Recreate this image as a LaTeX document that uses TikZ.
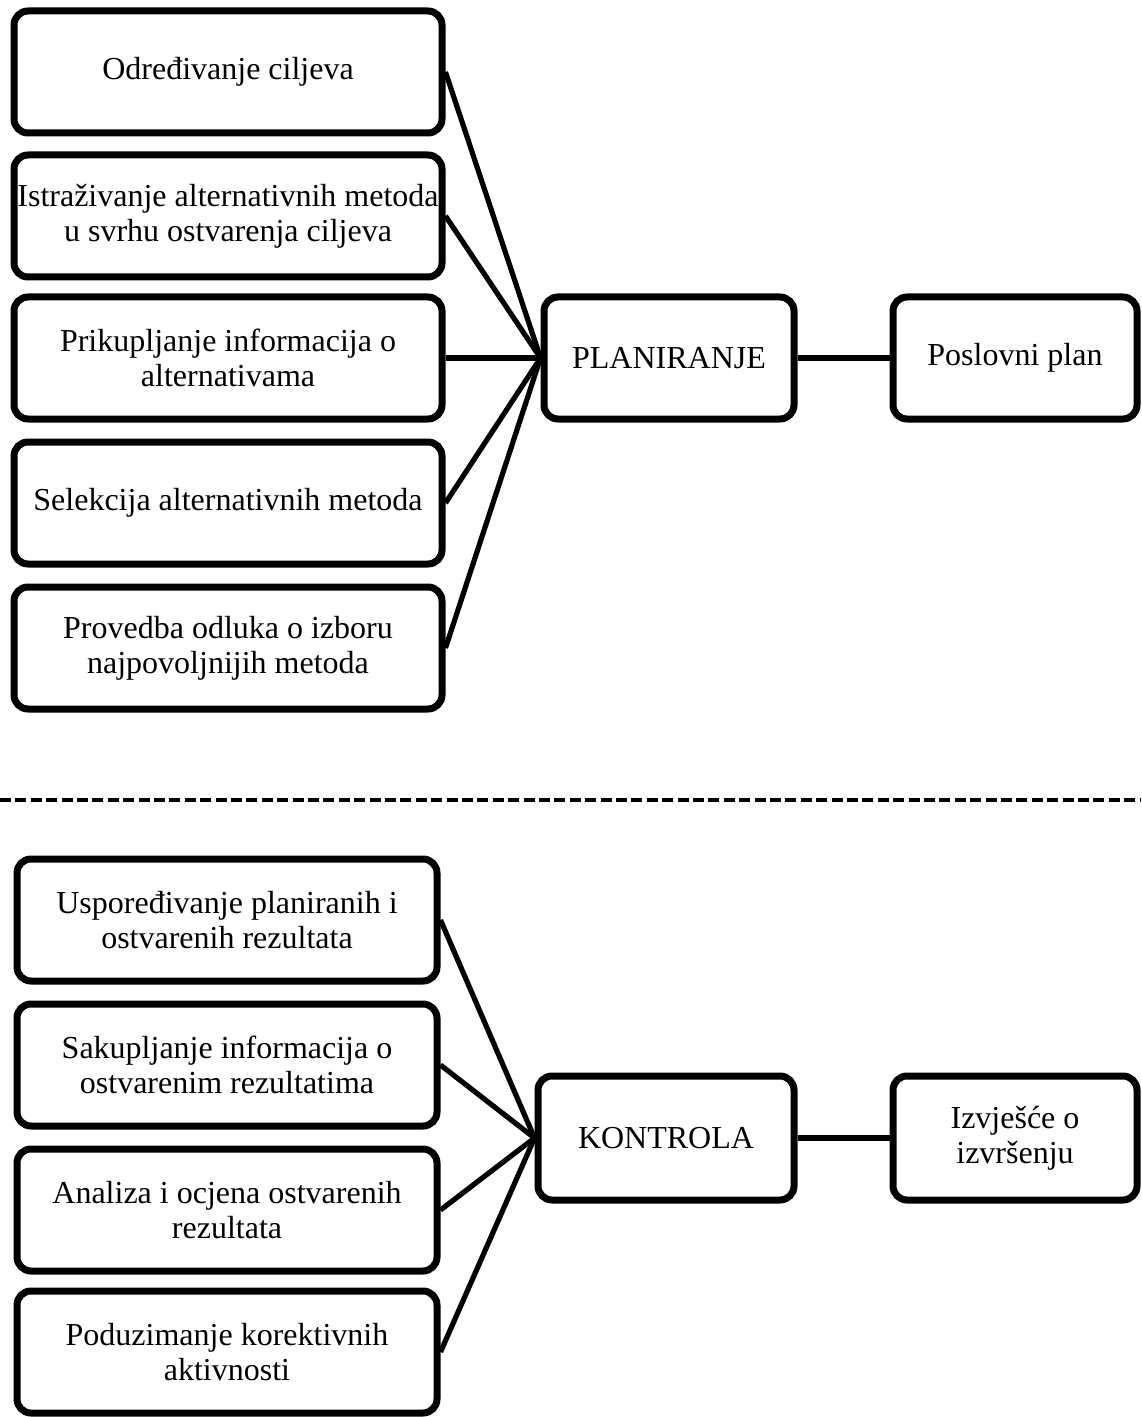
\documentclass[tikz,border=0pt]{standalone}
\usepackage{fontspec}
\setmainfont{Liberation Serif}
\usetikzlibrary{positioning,shadows}
\tikzset{
  box/.style={draw,line width=3.5pt,rounded corners=7pt,fill=white,
    minimum width=214pt,minimum height=61pt,inner xsep=1pt,align=center,
    font=\fontsize{16}{17.5}\selectfont,
    drop shadow={shadow xshift=1.2pt,shadow yshift=-1.2pt,opacity=0.25}},
  hub/.style={box,minimum width=125pt,minimum height=61pt},
  link/.style={line width=2.6pt},
}

\begin{document}
\begin{tikzpicture}[x=0.5pt,y=-0.5pt]
  \useasboundingbox (0,0) rectangle (1141,1417);
  % planiranje
  \node [box] (P1) at (228,72) {Određivanje ciljeva};
  \node [box] (P2) at (228,216) {Istraživanje alternativnih metoda\\u svrhu ostvarenja ciljeva};
  \node [box] (P3) at (228,358) {Prikupljanje informacija o\\alternativama};
  \node [box] (P4) at (228,503) {Selekcija alternativnih metoda};
  \node [box] (P5) at (228,648) {Provedba odluka o izboru\\najpovoljnijih metoda};
  \node [hub] (P) at (669,358) {PLANIRANJE};
  \node [hub,minimum width=122pt] (PP) at (1015,358) {Poslovni plan};
  \foreach \i in {1,...,5}
    \draw [link] (P\i.east) -- (P.west);
  \draw [link] (P) -- (PP);
  % granica
  \draw [line width=2pt,dash pattern=on 5.5pt off 2.2pt] (0,800) -- (1141,800);
  % kontrola
  \node [box,minimum width=210pt] (K1) at (227,920) {Uspoređivanje planiranih i\\ostvarenih rezultata};
  \node [box,minimum width=210pt] (K2) at (227,1065) {Sakupljanje informacija o\\ostvarenim rezultatima};
  \node [box,minimum width=210pt] (K3) at (227,1210) {Analiza i ocjena ostvarenih\\rezultata};
  \node [box,minimum width=210pt] (K4) at (227,1352) {Poduzimanje korektivnih\\aktivnosti};
  \node [hub,minimum width=128pt,minimum height=62pt] (K) at (666,1138) {KONTROLA};
  \node [hub,minimum width=122pt,minimum height=62pt] (KI) at (1015,1138) {Izvješće o\\izvršenju};
  \foreach \i in {1,...,4}
    \draw [link] (K\i.east) -- (K.west);
  \draw [link] (K) -- (KI);
\end{tikzpicture}
\end{document}
